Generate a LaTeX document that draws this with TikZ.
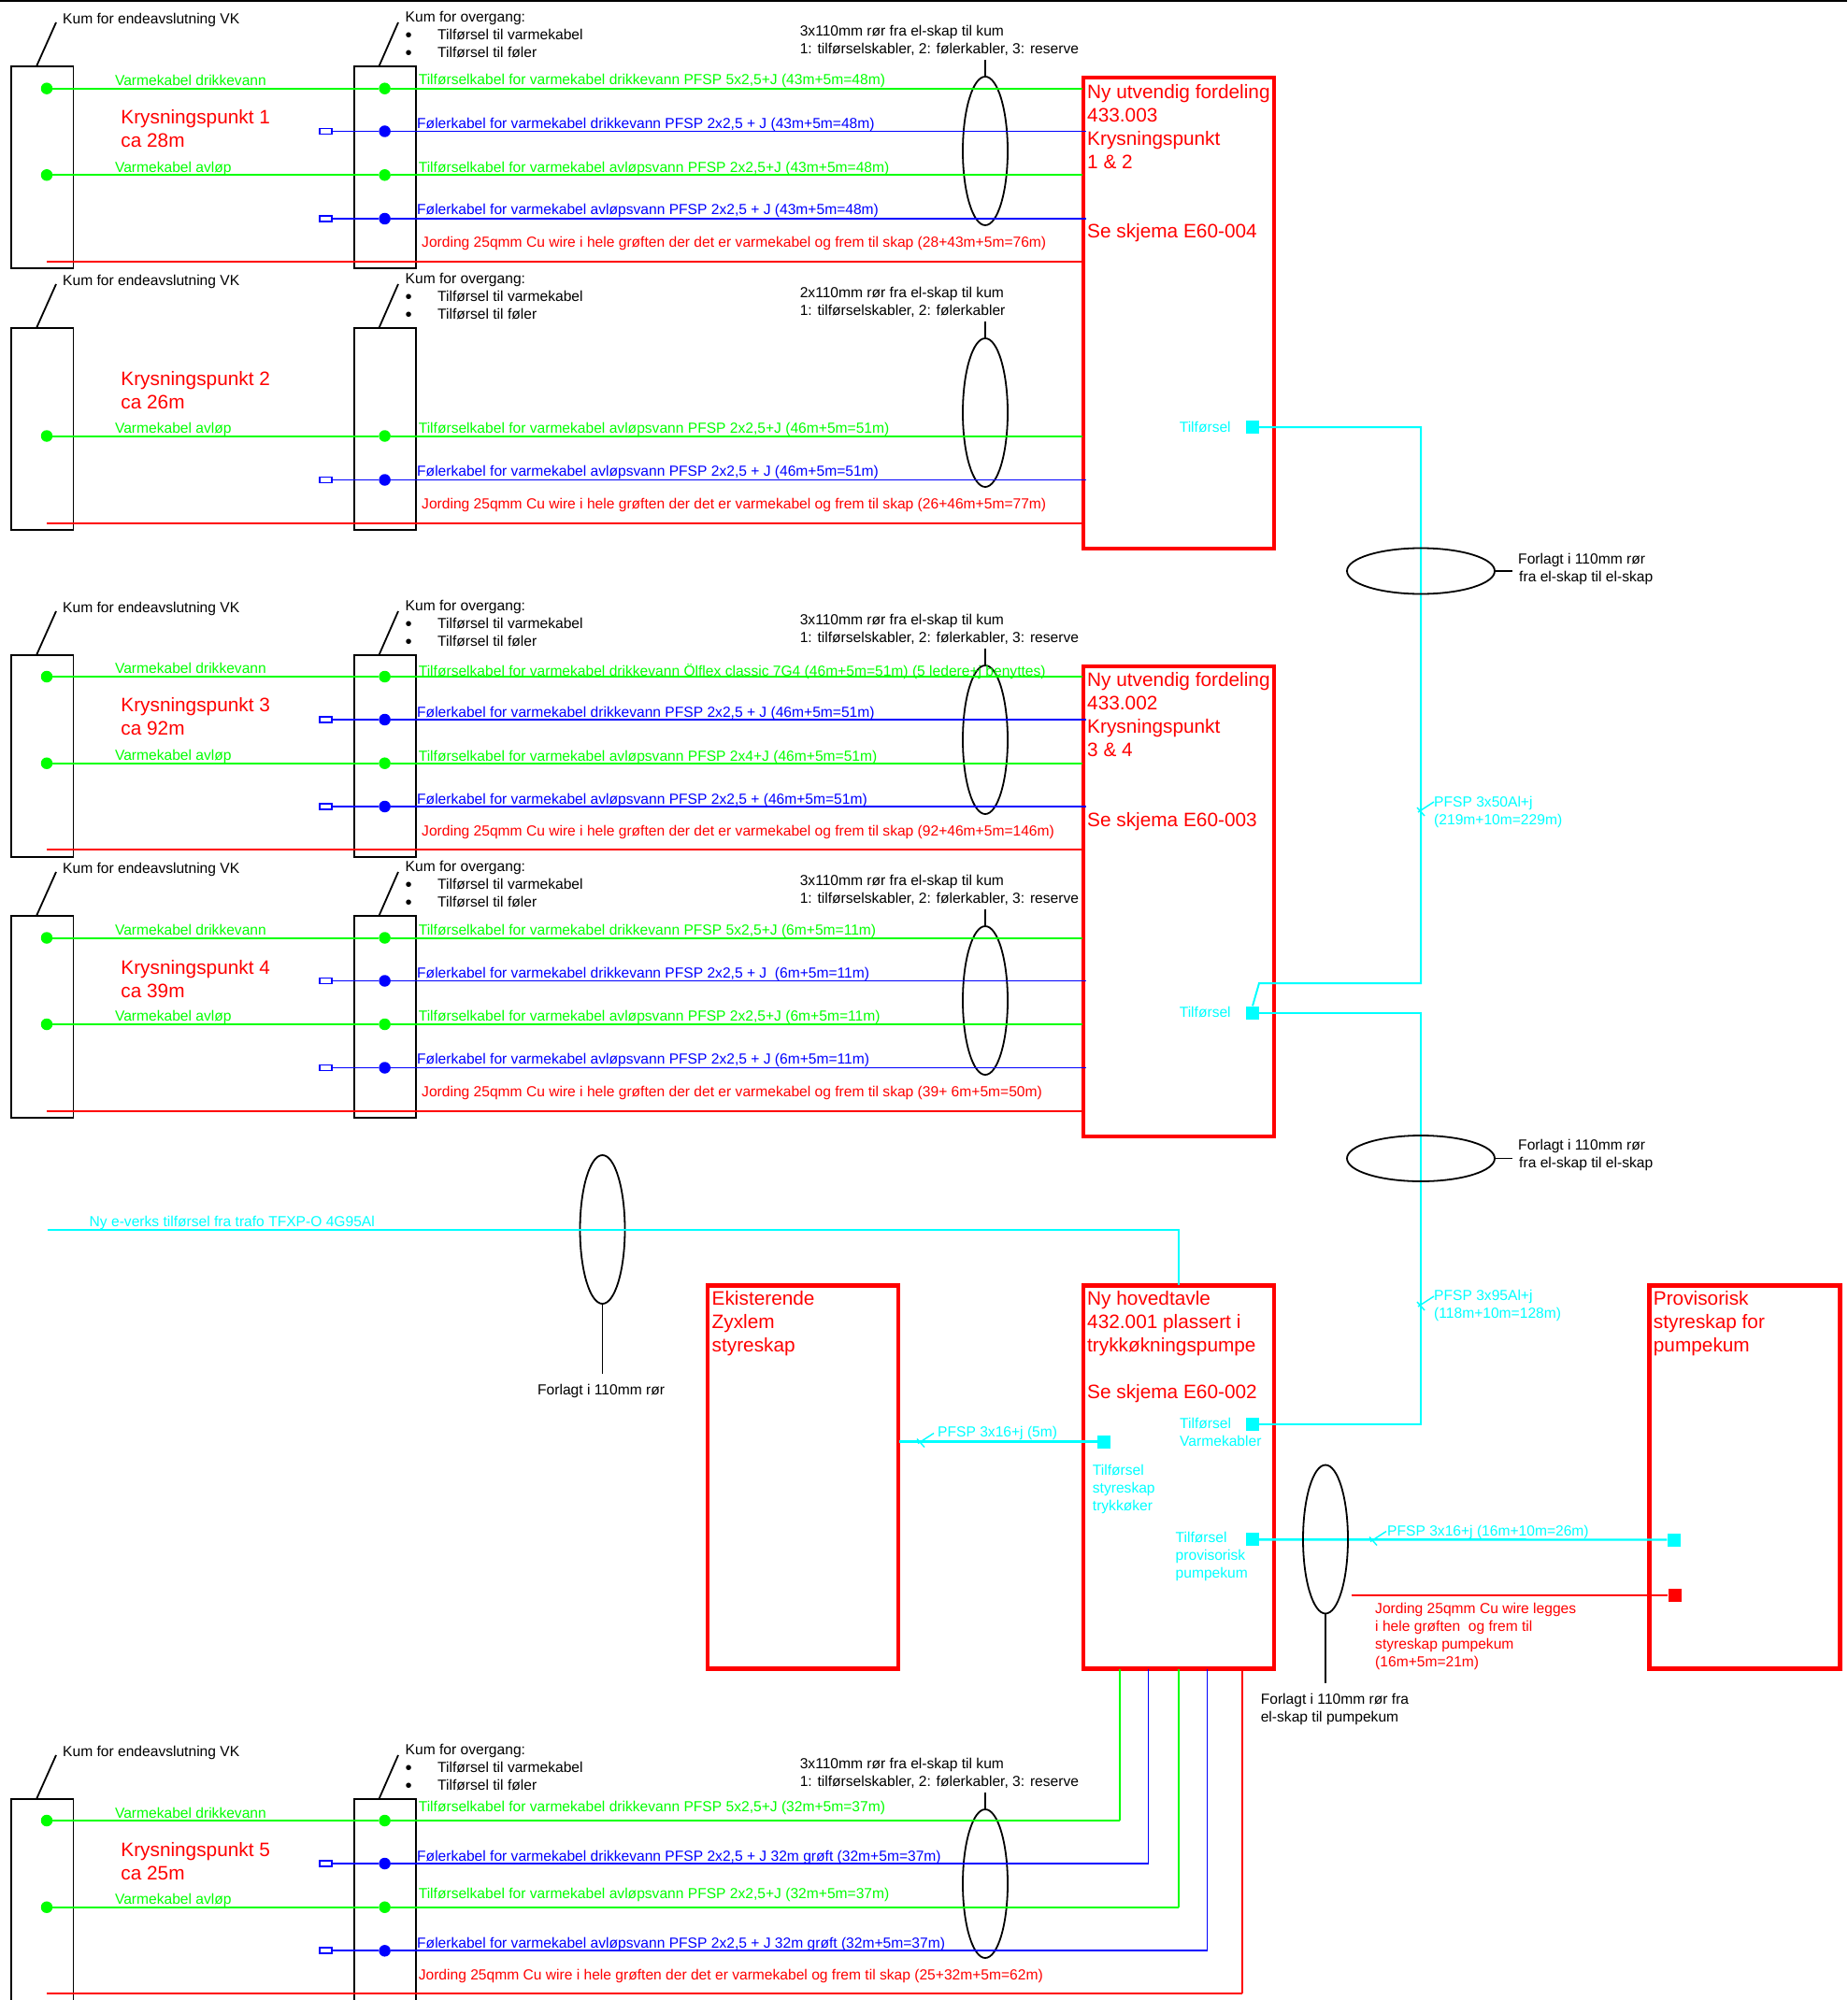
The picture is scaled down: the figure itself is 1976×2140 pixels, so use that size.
\documentclass[tikz,border=0pt]{standalone}
\usepackage{fontspec}
\usepackage{graphicx}
\usetikzlibrary{shapes.geometric,calc}
\setmainfont{Liberation Sans}
\definecolor{cgreen}{RGB}{0,255,0}
\definecolor{cblue}{RGB}{0,0,255}
\definecolor{cred}{RGB}{255,0,0}
\definecolor{ccyan}{RGB}{0,255,255}
\newcommand\bull{\makebox[34.5pt][l]{\raisebox{-1.4pt}{\scalebox{1.3}{•}}}}
\tikzset{
  smalltxt/.style={inner sep=0pt,anchor=west,align=left,yshift=-1.6pt,font=\fontsize{15.6}{19}\selectfont,execute at begin node=\strut},
  bigtxt/.style={inner sep=0pt,anchor=west,align=left,yshift=-3.5pt,font=\fontsize{20.8}{25}\selectfont,execute at begin node=\strut},
  kumbox/.style={draw=black,line width=1.8pt,outer sep=0pt,minimum width=66.5pt,minimum height=216pt,inner sep=0pt,anchor=north west},
  leader/.style={draw=black,line width=1.8pt},
  tube/.style={ellipse,draw=black,line width=1.8pt,inner sep=0pt,outer sep=0pt},
  vtube/.style={tube,minimum width=48pt,minimum height=159pt},
  htube/.style={tube,minimum width=158pt,minimum height=49pt},
  skap/.style={draw=cred,line width=4.5pt,outer sep=0pt,minimum width=204pt,inner sep=0pt,anchor=north west},
  gline/.style={draw=cgreen,line width=2pt},
  bline/.style={draw=cblue,line width=1.9pt},
  rline/.style={draw=cred,line width=2pt},
  cline/.style={draw=ccyan,line width=2pt},
  gdot/.style={circle,fill=cgreen,minimum size=12.5pt,inner sep=0pt},
  bdot/.style={circle,fill=cblue,minimum size=12.5pt,inner sep=0pt},
  bluecap/.style={draw=cblue,fill=white,line width=1.8pt,minimum width=13pt,minimum height=6pt,inner sep=0pt},
  csq/.style={fill=ccyan,minimum width=14pt,minimum height=14pt,inner sep=0pt},
  rsq/.style={fill=cred,minimum width=14pt,minimum height=14pt,inner sep=0pt},
}
% id, top y, tube text
\newcommand\kumframe[3]{%
  \node[kumbox] (#1A) at (12,#2) {};
  \node[kumbox] (#1B) at (378.6,#2) {};
  \coordinate (#1Atop) at (39,#2);
  \coordinate (#1Btop) at (405.4,#2);
  \coordinate (#1Aup) at (60,{#2-47});
  \coordinate (#1Bup) at (426,{#2-47});
  \draw[leader] (#1Atop) -- (#1Aup);
  \draw[leader] (#1Btop) -- (#1Bup);
  \node[smalltxt] (#1Atxt) at (67,{#2-51}) {Kum for endeavslutning VK};
  \node[smalltxt] (#1Btxt) at (433.5,{#2-32.5}) {Kum for overgang:\\\strut\bull Tilførsel til varmekabel\\\strut\bull Tilførsel til føler};
  \node[vtube] (#1tube) at (1054,{#2+90.5}) {};
  \coordinate (#1stem) at (1054,{#2-7});
  \draw[leader] (#1tube.north) -- (#1stem);
  \node[smalltxt] (#1tubetxt) at (855.6,{#2-27}) {#3};
}
% name, y, label y, end x, label
\newcommand\greenrow[5]{%
  \node[gdot] (#1a) at (50,#2) {};
  \node[gdot] (#1b) at (411.6,#2) {};
  \coordinate (#1e) at (#4,#2);
  \draw[gline] (#1a) -- (#1b) -- (#1e);
  \node[smalltxt,text=cgreen] (#1lab) at (447.6,#3) {#5};
}
\newcommand\bluerow[5]{%
  \node[bdot] (#1b) at (411.6,#2) {};
  \node[bluecap] (#1s) at (348.3,#2) {};
  \coordinate (#1e) at (#4,#2);
  \draw[bline] (#1s) -- (#1b) -- (#1e);
  \node[smalltxt,text=cblue] (#1lab) at (446,#3) {#5};
}
% name, y, label x, label y, end x, label
\newcommand\redrow[6]{%
  \coordinate (#1a) at (50,#2);
  \coordinate (#1e) at (#5,#2);
  \draw[rline] (#1a) -- (#1e);
  \node[smalltxt,text=cred] (#1lab) at (#3,#4) {#6};
}
% name, x, y
\newcommand\ticks[3]{%
  \coordinate (#1p) at ({#2+14},{#3-9});
  \coordinate (#1q) at ({#2-3},{#3+2});
  \coordinate (#1r) at ({#2-4},{#3-3});
  \coordinate (#1s) at ({#2+4},{#3+6});
  \draw[draw=ccyan,line width=1.4pt] (#1p) -- (#1q) (#1r) -- (#1s);
}
\newcommand\vk[3]{\node[smalltxt,text=cgreen] (#1) at (122.8,#2) {#3};}
\newcommand\krys[4]{\node[bigtxt,text=cred] (#1) at (129.2,#2) {Krysningspunkt #3\\\strut ca #4};}
\begin{document}
\begin{tikzpicture}[x=1pt,y=-1pt]
\useasboundingbox (0,0) rectangle (1976,2140);
\fill[white] (0,0) rectangle (1976,2140);
\coordinate (topL) at (0,1);
\coordinate (topR) at (1976,1);
\draw[black,line width=2.5pt] (topL) -- (topR);

% cabinets
\node[skap,minimum height=504pt] (S1) at (1159,83) {};
\node[skap,minimum height=503pt] (S2) at (1159,713) {};
\node[skap,minimum height=410pt] (S3) at (1159,1375.5) {};
\node[skap,minimum height=410pt] (S4) at (757,1375.5) {};
\node[skap,minimum height=410pt] (S5) at (1764.5,1375.5) {};

\node[bigtxt,text=cred] (S1t) at (1163,135.5) {Ny utvendig fordeling\\\strut 433.003\\\strut Krysningspunkt\\\strut 1 \& 2};
\node[bigtxt,text=cred] (S1u) at (1163,246) {Se skjema E60-004};
\node[bigtxt,text=cred] (S2t) at (1163,764.5) {Ny utvendig fordeling\\\strut 433.002\\\strut Krysningspunkt\\\strut 3 \& 4};
\node[bigtxt,text=cred] (S2u) at (1163,875.7) {Se skjema E60-003};
\node[bigtxt,text=cred] (S3t) at (1163,1414.5) {Ny hovedtavle\\\strut 432.001 plassert i\\\strut trykkøkningspumpe};
\node[bigtxt,text=cred] (S3u) at (1163,1488) {Se skjema E60-002};
\node[bigtxt,text=cred] (S4t) at (761.5,1414) {Ekisterende\\\strut Zyxlem\\\strut styreskap};
\node[bigtxt,text=cred] (S5t) at (1768.7,1414.5) {Provisorisk\\\strut styreskap for\\\strut pumpekum};

% block 1
\kumframe{a}{71}{3x110mm rør fra el-skap til kum\\\strut 1: tilførselskabler, 2: følerkabler, 3: reserve}
\vk{a1v}{86}{Varmekabel drikkevann}
\vk{a2v}{178.7}{Varmekabel avløp}
\krys{ak}{137.5}{1}{28m}
\greenrow{ag1}{94.7}{85}{1158}{Tilførselkabel for varmekabel drikkevann PFSP 5x2,5+J (43m+5m=48m)}
\bluerow{ab1}{140.5}{131.7}{1162}{Følerkabel for varmekabel drikkevann PFSP 2x2,5 + J (43m+5m=48m)}
\greenrow{ag2}{187.3}{178.8}{1158}{Tilførselkabel for varmekabel avløpsvann PFSP 2x2,5+J (43m+5m=48m)}
\bluerow{ab2}{234}{224.5}{1162}{Følerkabel for varmekabel avløpsvann PFSP 2x2,5 + J (43m+5m=48m)}
\redrow{ar}{280}{451}{259.3}{1158}{Jording 25qmm Cu wire i hele grøften der det er varmekabel og frem til skap (28+43m+5m=76m)}

% block 2
\kumframe{c}{351}{2x110mm rør fra el-skap til kum\\\strut 1: tilførselskabler, 2: følerkabler}
\vk{c2v}{458.5}{Varmekabel avløp}
\krys{ck}{417.5}{2}{26m}
\greenrow{cg2}{466.5}{458.5}{1158}{Tilførselkabel for varmekabel avløpsvann PFSP 2x2,5+J (46m+5m=51m)}
\bluerow{cb2}{513.5}{504}{1162}{Følerkabel for varmekabel avløpsvann PFSP 2x2,5 + J (46m+5m=51m)}
\redrow{cr}{559.5}{451}{539}{1158}{Jording 25qmm Cu wire i hele grøften der det er varmekabel og frem til skap (26+46m+5m=77m)}

% block 3
\kumframe{d}{701}{3x110mm rør fra el-skap til kum\\\strut 1: tilførselskabler, 2: følerkabler, 3: reserve}
\vk{d1v}{715}{Varmekabel drikkevann}
\vk{d2v}{808}{Varmekabel avløp}
\krys{dk}{767}{3}{92m}
\greenrow{dg1}{724}{717.7}{1158}{Tilførselkabel for varmekabel drikkevann Ölflex classic 7G4 (46m+5m=51m) (5 ledere+j benyttes)}
\bluerow{db1}{770}{762}{1162}{Følerkabel for varmekabel drikkevann PFSP 2x2,5 + J (46m+5m=51m)}
\greenrow{dg2}{816.7}{808.7}{1158}{Tilførselkabel for varmekabel avløpsvann PFSP 2x4+J (46m+5m=51m)}
\bluerow{db2}{863}{855}{1162}{Følerkabel for varmekabel avløpsvann PFSP 2x2,5 + (46m+5m=51m)}
\redrow{dr}{909.3}{451}{889}{1158}{Jording 25qmm Cu wire i hele grøften der det er varmekabel og frem til skap (92+46m+5m=146m)}

% block 4
\kumframe{e}{980}{3x110mm rør fra el-skap til kum\\\strut 1: tilførselskabler, 2: følerkabler, 3: reserve}
\vk{e1v}{995}{Varmekabel drikkevann}
\vk{e2v}{1087.5}{Varmekabel avløp}
\krys{ek}{1048}{4}{39m}
\greenrow{eg1}{1003.5}{995}{1158}{Tilførselkabel for varmekabel drikkevann PFSP 5x2,5+J (6m+5m=11m)}
\bluerow{eb1}{1049.5}{1041}{1162}{Følerkabel for varmekabel drikkevann PFSP 2x2,5 + J\ \ (6m+5m=11m)}
\greenrow{eg2}{1096}{1087.5}{1158}{Tilførselkabel for varmekabel avløpsvann PFSP 2x2,5+J (6m+5m=11m)}
\bluerow{eb2}{1142.5}{1133.5}{1162}{Følerkabel for varmekabel avløpsvann PFSP 2x2,5 + J (6m+5m=11m)}
\redrow{er}{1188.5}{451}{1168.5}{1158}{Jording 25qmm Cu wire i hele grøften der det er varmekabel og frem til skap (39+ 6m+5m=50m)}

% block 5
\kumframe{f}{1925}{3x110mm rør fra el-skap til kum\\\strut 1: tilførselskabler, 2: følerkabler, 3: reserve}
\vk{f1v}{1940}{Varmekabel drikkevann}
\vk{f2v}{2032.5}{Varmekabel avløp}
\krys{fk}{1991.5}{5}{25m}
\greenrow{fg1}{1948}{1933.5}{1198}{Tilførselkabel for varmekabel drikkevann PFSP 5x2,5+J (32m+5m=37m)}
\bluerow{fb1}{1994}{1985.7}{1228.5}{Følerkabel for varmekabel drikkevann PFSP 2x2,5 + J 32m grøft (32m+5m=37m)}
\greenrow{fg2}{2040.7}{2025.7}{1261}{Tilførselkabel for varmekabel avløpsvann PFSP 2x2,5+J (32m+5m=37m)}
\bluerow{fb2}{2087.3}{2078.7}{1291.5}{Følerkabel for varmekabel avløpsvann PFSP 2x2,5 + J 32m grøft (32m+5m=37m)}
\redrow{fr}{2133.3}{447.6}{2112.7}{1329}{Jording 25qmm Cu wire i hele grøften der det er varmekabel og frem til skap (25+32m+5m=62m)}
\coordinate (u1) at (1198,1786);
\coordinate (u2) at (1228.5,1786);
\coordinate (u3) at (1261,1786);
\coordinate (u4) at (1291.5,1786);
\coordinate (u5) at (1329,1786);
\draw[draw=cgreen,line width=1.7pt] (fg1e) -- (u1);
\draw[bline] (fb1e) -- (u2);
\draw[draw=cgreen,line width=1.7pt] (fg2e) -- (u3);
\draw[bline] (fb2e) -- (u4);
\draw[rline] (fre) -- (u5);

% feeders
\node[csq] (q1) at (1340,457) {};
\node[smalltxt,text=ccyan] (q1t) at (1261.6,456.7) {Tilførsel};
\node[csq] (q2) at (1340,1083.5) {};
\node[smalltxt,text=ccyan] (q2t) at (1261.6,1083) {Tilførsel};
\node[csq] (q3) at (1340,1524) {};
\node[smalltxt,text=ccyan] (q3t) at (1262,1533.5) {Tilførsel\\\strut Varmekabler};
\node[csq] (q4) at (1181,1542.5) {};
\node[smalltxt,text=ccyan] (q4t) at (1168.7,1593.5) {Tilførsel\\\strut styreskap\\\strut trykkøker};
\node[csq] (q5) at (1340,1647.3) {};
\node[smalltxt,text=ccyan] (q5t) at (1257.5,1665.5) {Tilførsel\\\strut provisorisk\\\strut pumpekum};
\node[csq] (q6) at (1790.5,1647.5) {};
\node[rsq] (q7) at (1791.5,1706.7) {};

\coordinate (n1) at (1520,457);
\coordinate (n2) at (1520,1052);
\coordinate (n3) at (1347,1052);
\draw[cline] (q1) -- (n1) -- (n2) -- (n3) -- (q2.north);
\coordinate (n4) at (1520,1083.5);
\coordinate (n5) at (1520,1524);
\draw[cline] (q2) -- (n4) -- (n5) -- (q3);
\coordinate (n6) at (962,1542.5);
\draw[draw=ccyan,line width=2.4pt] (n6) -- (q4);
\draw[draw=ccyan,line width=2.4pt] (q5) -- (q6);
\coordinate (n7) at (1446,1706.7);
\draw[draw=cred,line width=2pt] (n7) -- (q7);

\ticks{t1}{1520}{867}
\ticks{t2}{1520}{1396}
\ticks{t3}{985}{1542.5}
\ticks{t4}{1469}{1647.5}
\node[smalltxt,text=ccyan] (t1l) at (1534,868.5) {PFSP 3x50Al+j\\\strut (219m+10m=229m)};
\node[smalltxt,text=ccyan] (t2l) at (1534,1397) {PFSP 3x95Al+j\\\strut (118m+10m=128m)};
\node[smalltxt,text=ccyan] (t3l) at (1003,1532.5) {PFSP 3x16+j (5m)};
\node[smalltxt,text=ccyan] (t4l) at (1484,1637.7) {PFSP 3x16+j (16m+10m=26m)};
\node[smalltxt,text=cred] (jl) at (1471,1750.5) {Jording 25qmm Cu wire legges\\\strut i hele grøften\ \ og frem til\\\strut styreskap pumpekum\\\strut (16m+5m=21m)};

% tubes between cabinets
\node[htube] (h1) at (1520,611) {};
\coordinate (h1e) at (1618,611);
\draw[leader] (h1.east) -- (h1e);
\node[smalltxt] (h1t) at (1624,608.5) {Forlagt i 110mm rør\\\strut \kern1pt fra el-skap til el-skap};
\node[htube] (h2) at (1520,1239.5) {};
\coordinate (h2e) at (1618,1239.5);
\draw[leader] (h2.east) -- (h2e);
\node[smalltxt] (h2t) at (1624,1236) {Forlagt i 110mm rør\\\strut \kern1pt fra el-skap til el-skap};
\node[vtube] (v1) at (644.5,1315.5) {};
\coordinate (v1e) at (644.5,1470);
\draw[leader] (v1.south) -- (v1e);
\node[smalltxt] (v1t) at (575,1487) {Forlagt i 110mm rør};
\node[vtube] (v2) at (1418,1647) {};
\coordinate (v2e) at (1418,1801);
\draw[leader] (v2.south) -- (v2e);
\node[smalltxt] (v2t) at (1348.6,1828.5) {Forlagt i 110mm rør fra\\\strut el-skap til pumpekum};

% utility feed
\coordinate (w1) at (50.5,1316);
\coordinate (w2) at (1261,1316);
\coordinate (w3) at (1261,1375);
\draw[cline] (w1) -- (w2) -- (w3);
\node[smalltxt,text=ccyan] (wl) at (95.5,1307) {Ny e-verks tilførsel fra trafo TFXP-O 4G95Al};
\end{tikzpicture}
\end{document}
